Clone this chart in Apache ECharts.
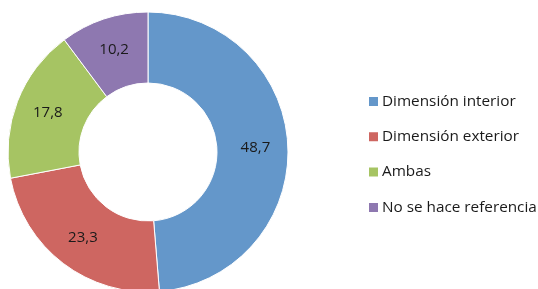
<!DOCTYPE html>
<html>
<head>
<meta charset="utf-8">
<script src="https://cdn.jsdelivr.net/npm/echarts@6/dist/echarts.min.js"></script>
<style>html,body{margin:0;padding:0;background:#fff}#c{width:538px;height:289px}</style>
</head>
<body>
<div id="c"></div>
<script>
const categories = ["Dimensión interior", "Dimensión exterior", "Ambas", "No se hace referencia"];
const values = [48.7, 23.3, 17.8, 10.2];
const colors = ["#6497CA", "#CE6661", "#A6C463", "#8E78B0"];

const chart = echarts.init(document.getElementById('c'), null, {renderer: 'canvas'});
chart.setOption({
  animation: false,
  backgroundColor: '#fff',
  color: colors,
  legend: {
    orient: 'vertical',
    left: 367,
    top: 94,
    padding: 0,
    itemWidth: 11,
    itemHeight: 11,
    itemGap: 20.3,
    icon: 'rect',
    textStyle: {fontFamily: 'Open Sans', fontSize: 15.3, lineHeight: 15, color: '#1a1a1a', padding: [0, 0, 0, -2]},
    data: categories
  },
  series: [{
    type: 'pie',
    center: [148, 152],
    radius: [69, 140],
    startAngle: 90,
    clockwise: true,
    label: {
      show: true,
      position: 'inside',
      fontFamily: 'Open Sans',
      fontSize: 15,
      color: '#1a1a1a',
      formatter: p => String(p.value).replace('.', ',')
    },
    labelLine: {show: false},
    itemStyle: {borderColor: '#fff', borderWidth: 1},
    data: categories.map((n, i) => ({name: n, value: values[i]}))
  }]
});
</script>
</body>
</html>
